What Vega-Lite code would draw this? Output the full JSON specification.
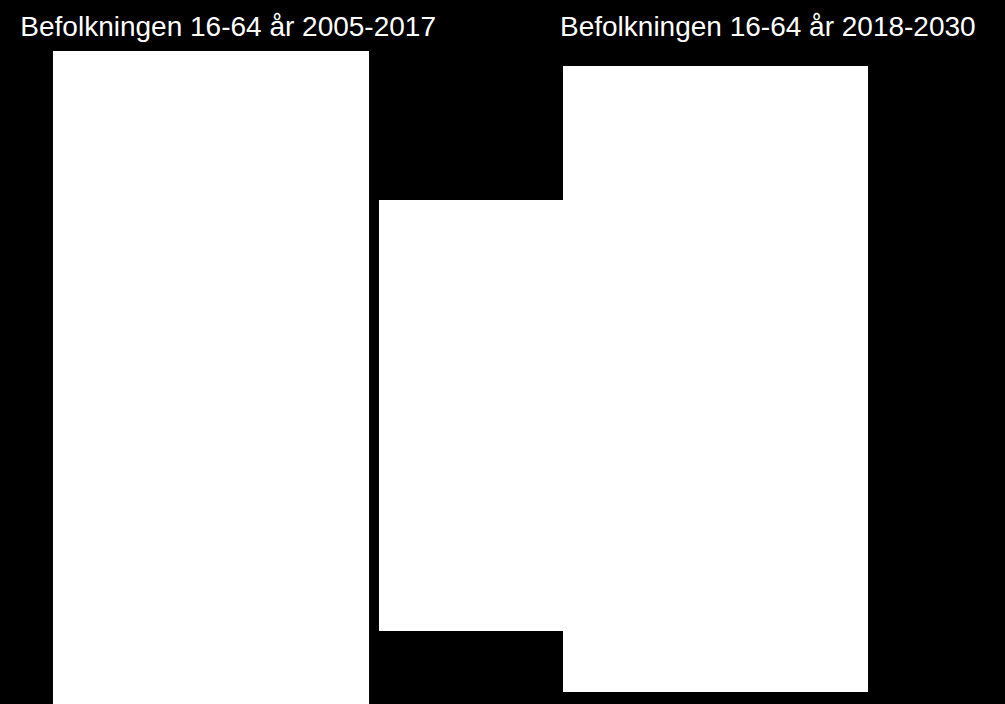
{
  "$schema": "https://vega.github.io/schema/vega-lite/v6.json",
  "width": 1005,
  "height": 704,
  "autosize": {"type": "none"},
  "padding": 0,
  "background": "#000000",
  "config": {"view": {"stroke": null}, "font": "Liberation Sans"},
  "datasets": {
    "bars": [
      {"step": "2005-2017", "x0": 5.27, "x1": 36.72, "y0": -2, "y1": 92.76},
      {"step": "change", "x0": 37.71, "x1": 56.02, "y0": 10.37, "y1": 71.59},
      {"step": "2018-2030", "x0": 56.02, "x1": 86.37, "y0": 1.7, "y1": 90.63}
    ],
    "titles": [
      {"label": "Befolkningen 16-64 år 2005-2017", "x": 22.7, "y": 94.95},
      {"label": "Befolkningen 16-64 år 2018-2030", "x": 76.4, "y": 94.95}
    ]
  },
  "layer": [
    {
      "data": {"name": "bars"},
      "mark": {"type": "rect", "color": "#ffffff", "clip": true},
      "encoding": {
        "x": {"field": "x0", "type": "quantitative", "scale": {"domain": [0, 100], "nice": false, "zero": false}, "axis": null},
        "x2": {"field": "x1"},
        "y": {"field": "y0", "type": "quantitative", "scale": {"domain": [0, 100], "nice": false, "zero": false}, "axis": null},
        "y2": {"field": "y1"}
      }
    },
    {
      "data": {"name": "titles"},
      "mark": {"type": "text", "color": "#ffffff", "fontSize": 28, "align": "center", "baseline": "alphabetic"},
      "encoding": {
        "x": {"field": "x", "type": "quantitative"},
        "y": {"field": "y", "type": "quantitative"},
        "text": {"field": "label"}
      }
    }
  ]
}
